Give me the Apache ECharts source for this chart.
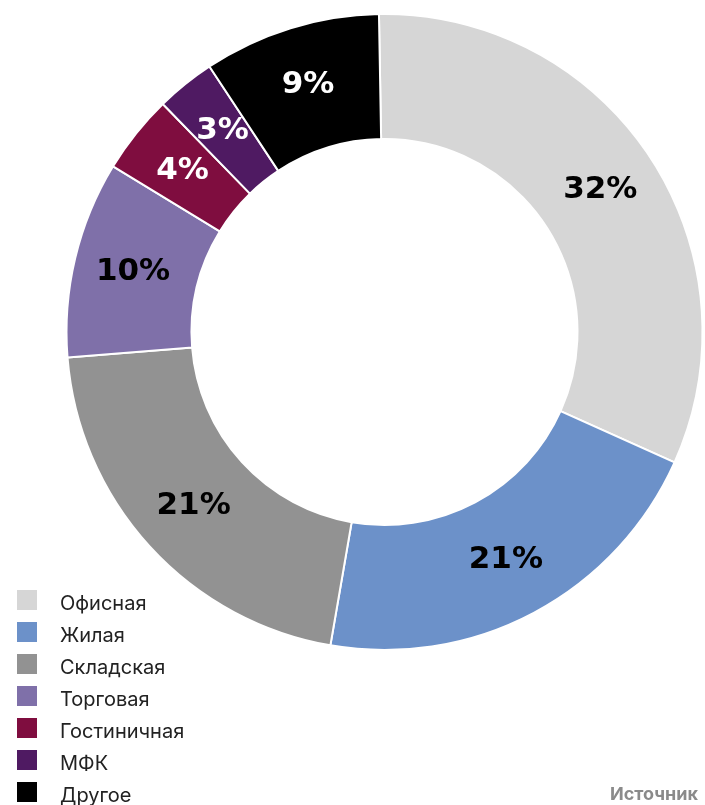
<!DOCTYPE html>
<html>
<head>
<meta charset="utf-8">
<script src="https://cdn.jsdelivr.net/npm/echarts@6/dist/echarts.min.js"></script>
<style>
  html, body { margin: 0; padding: 0; background: #ffffff; }
  #chart { width: 705px; height: 805px; }
</style>
</head>
<body>
<div id="chart"></div>
<script>
// Структура по типам недвижимости, %
const categories = ['Офисная', 'Жилая', 'Складская', 'Торговая', 'Гостиничная', 'МФК', 'Другое'];
const shares = [32, 21, 21, 10, 4, 3, 9];
const colors = ['#d6d6d6', '#6c91c9', '#929292', '#7f70a9', '#7f0d3f', '#4f1a62', '#000000'];
const labelColors = ['#000000', '#000000', '#000000', '#000000', '#ffffff', '#ffffff', '#ffffff'];
const sourceText = 'Источник';

const chart = echarts.init(document.getElementById('chart'), null, { renderer: 'canvas' });

const data = categories.map((name, i) => ({
  name: name,
  value: shares[i],
  itemStyle: { color: colors[i] },
  label: { color: labelColors[i] }
}));

chart.setOption({
  animation: false,
  backgroundColor: '#ffffff',
  legend: {
    orient: 'vertical',
    left: 15,
    top: 588,
    height: 400,
    padding: 0,
    itemWidth: 22,
    itemHeight: 22,
    itemGap: 6,
    icon: 'rect',
    selectedMode: false,
    data: categories,
    formatter: name => '{n|' + name + '}',
    textStyle: {
      padding: [0, 0, 0, 17],
      rich: {
        n: {
          fontFamily: 'Inter, Roboto, sans-serif',
          fontSize: 20,
          color: '#222222',
          padding: [8, 0, 0, 0]
        }
      }
    }
  },
  graphic: [{
    type: 'text',
    left: 610,
    top: 786,
    style: {
      text: sourceText,
      fontFamily: 'Inter, Roboto, sans-serif',
      fontWeight: 'bold',
      fontSize: 18,
      fill: '#8a8a8a'
    }
  }],
  series: [{
    type: 'pie',
    center: [384.5, 332],
    radius: [193, 318],
    startAngle: 91,
    clockwise: true,
    avoidLabelOverlap: false,
    itemStyle: { borderColor: '#ffffff', borderWidth: 2 },
    label: {
      show: true,
      position: 'inside',
      formatter: '{c}%',
      fontFamily: '"DejaVu Sans", sans-serif',
      fontWeight: 900,
      fontSize: 31
    },
    labelLine: { show: false },
    emphasis: { disabled: true },
    data: data
  }]
});
</script>
</body>
</html>
